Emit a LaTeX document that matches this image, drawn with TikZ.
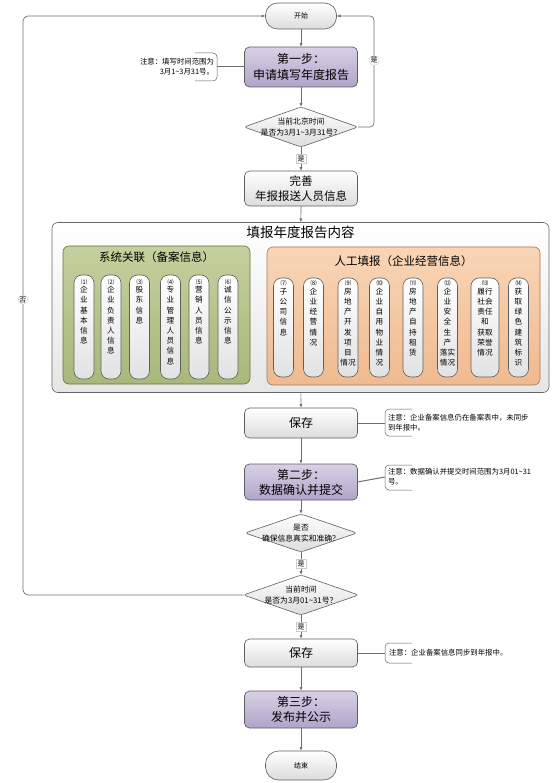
\documentclass[tikz,border=0pt]{standalone}
\usepackage{fontspec}
\setmainfont{Noto Sans CJK SC}
\usetikzlibrary{shapes.geometric,arrows.meta}
\definecolor{lineC}{HTML}{6E6E6E}
\definecolor{bdC}{HTML}{5E5E5E}
\definecolor{purTop}{HTML}{D8D1E6}
\definecolor{purBot}{HTML}{B0A4C8}
\definecolor{grayBot}{HTML}{DCDCDC}
\definecolor{contBot}{HTML}{E6E6E6}
\definecolor{grnTop}{HTML}{C4D09E}
\definecolor{grnBot}{HTML}{A8B87A}
\definecolor{grnBd}{HTML}{66743F}
\definecolor{orTop}{HTML}{F9D5B6}
\definecolor{orBot}{HTML}{EFBA8F}
\definecolor{orBd}{HTML}{A27A58}
\definecolor{pillBot}{HTML}{E2E2E2}
\begin{document}
\begin{tikzpicture}[x=1pt,y=-1pt,
  every node/.style={inner sep=0pt, outer sep=0pt},
  term/.style={draw=bdC, line width=0.6pt, top color=white, bottom color=grayBot, rounded corners=12pt, minimum width=71pt, font=\fontsize{7}{9}\selectfont},
  stepbox/.style={draw=bdC, line width=0.7pt, top color=purTop, bottom color=purBot, rounded corners=5pt, minimum width=113pt, align=center},
  graybox/.style={draw=bdC, line width=0.6pt, top color=white, bottom color=grayBot, rounded corners=5pt, minimum width=113pt, align=center},
  dia/.style={shape=diamond, draw=bdC, line width=0.6pt, top color=white, bottom color=grayBot, rounded corners=3pt},
  diatext/.style={align=center, font=\fontsize{7.8}{11}\selectfont},
  pill/.style={draw=bdC, line width=0.6pt, top color=white, bottom color=pillBot, rounded corners=8pt},
  pilltext/.style={align=center, font=\fontsize{7.6}{10.2}\selectfont},
  notetext/.style={font=\fontsize{7.4}{10}\selectfont},
  bracket/.style={draw=bdC, line width=0.5pt, rounded corners=4pt},
  arr/.style={draw=lineC, line width=0.7pt, -{Latex[length=4pt,width=3pt]}},
  conn/.style={draw=lineC, line width=1pt},
  lab/.style={draw=gray!40, fill=white, line width=0.4pt, inner sep=1.5pt, font=\fontsize{7}{8}\selectfont}
]
\useasboundingbox (0,0) rectangle (554,783);

% main flow nodes
\node[term, minimum height=26pt] (start) at (301,16) {开始};
\node[stepbox, minimum height=40pt, font=\fontsize{12}{16}\selectfont] (s1) at (301,67) {第一步：\\申请填写年度报告};
\node[dia, minimum width=114pt, minimum height=40pt] (d1) at (301,127) {};
\node[diatext] (d1t) at (301,127) {当前北京时间\\是否为3月1\textasciitilde3月31号？};
\node[graybox, minimum height=35pt, font=\fontsize{11.5}{14.5}\selectfont] (ws) at (301,188.5) {完善\\年报报送人员信息};

% container
\node[draw=gray!80!black, line width=0.6pt, top color=white, bottom color=contBot, rounded corners=6pt, minimum width=497pt, minimum height=170pt] (cont) at (300.5,307.5) {};
\node[font=\fontsize{13.5}{15}\selectfont] (ctitle) at (300.5,232) {填报年度报告内容};

\node[draw=grnBd, line width=0.6pt, top color=grnTop, bottom color=grnBot, rounded corners=6pt, minimum width=187pt, minimum height=138pt] (grn) at (156.5,315) {};
\node[font=\fontsize{11.5}{13}\selectfont] (gtitle) at (156.5,257) {系统关联（备案信息）};

\node[draw=orBd, line width=0.6pt, top color=orTop, bottom color=orBot, rounded corners=6pt, minimum width=273pt, minimum height=138pt] (org) at (403.5,316) {};
\node[font=\fontsize{11.5}{13}\selectfont] (otitle) at (403.5,261) {人工填报（企业经营信息）};

\newcommand{\nm}[1]{{\fontsize{6}{7}\selectfont #1}\\[-1.5pt]}
\foreach \n/\x/\w/\t in {
  p1/84/20/{\nm{⑴}企\\业\\基\\本\\信\\息},
  p2/111/20/{\nm{⑵}企\\业\\负\\责\\人\\信\\息},
  p3/139.5/20/{\nm{⑶}股\\东\\信\\息},
  p4/170.5/20/{\nm{⑷}专\\业\\管\\理\\人\\员\\信\\息},
  p5/199/20/{\nm{⑸}营\\销\\人\\员\\信\\息},
  p6/228/20/{\nm{⑹}诚\\信\\公\\示\\信\\息}}{
  \node[pill, minimum width=\w pt, minimum height=104pt] (\n) at (\x,327) {};
  \node[pilltext, anchor=north] at ([yshift=-4pt]\n.north) {\t};
}
\foreach \n/\x/\w/\t in {
  p7/283.5/20/{\nm{⑺}子\\公\\司\\信\\息},
  p8/313.5/20/{\nm{⑻}企\\业\\经\\营\\情\\况},
  p9/348/20/{\nm{⑼}房\\地\\产\\开\\发\\项\\目\\情况},
  p10/379.5/20/{\nm{⑽}企\\业\\自\\用\\物\\业\\情\\况},
  p11/413/20/{\nm{⑾}房\\地\\产\\自\\持\\租\\赁},
  p12/447.5/20/{\nm{⑿}企\\业\\安\\全\\生\\产\\落实\\情况},
  p13/485/28/{\nm{⒀}履行\\社会\\责任\\和\\获取\\荣誉\\情况},
  p14/518.5/20/{\nm{⒁}获\\取\\绿\\色\\建\\筑\\标\\识}}{
  \node[pill, minimum width=\w pt, minimum height=99pt] (\n) at (\x,327.5) {};
  \node[pilltext, anchor=north] at ([yshift=-2.5pt]\n.north) {\t};
}

% lower flow
\node[graybox, minimum height=30pt, font=\fontsize{12}{14}\selectfont] (sv1) at (301,423) {保存};
\node[stepbox, minimum height=36pt, font=\fontsize{12}{15}\selectfont] (s2) at (301,482) {第二步：\\数据确认并提交};
\node[dia, minimum width=112pt, minimum height=38pt] (d2) at (301,533) {};
\node[diatext] (d2t) at (301,533) {是否\\确保信息真实和准确？};
\node[dia, minimum width=115pt, minimum height=40pt] (d3) at (301,595) {};
\node[diatext] (d3t) at (301,595) {当前时间\\是否为3月01\textasciitilde31号？};
\node[graybox, minimum height=28pt, font=\fontsize{12}{14}\selectfont] (sv2) at (301,653) {保存};
\node[stepbox, minimum height=37pt, font=\fontsize{12}{14.5}\selectfont] (s3) at (301,709.5) {第三步：\\发布并公示};
\node[term, minimum height=29pt, rounded corners=13pt] (end) at (301,765.5) {结束};

% notes
\node[notetext, align=right, anchor=east] (n1) at (214,67) {注意：填写时间范围为\\3月1\textasciitilde3月31号。};
\draw[bracket] (195,53) -- (217,53) -- (217,81) -- (195,81);
\coordinate (n1c) at (217,67);

\node[notetext, align=left, anchor=west] (n2) at (388,423) {注意：企业备案信息仍在备案表中，未同步\\到年报中。};
\draw[bracket] (412,409) -- (385,409) -- (385,436) -- (412,436);
\coordinate (n2c) at (385,423);

\node[notetext, align=left, anchor=west] (n3) at (388,477) {注意：数据确认并提交时间范围为3月01\textasciitilde31\\号。};
\draw[bracket] (412,465) -- (385,465) -- (385,490) -- (412,490);
\coordinate (n3c) at (385,477);

\node[notetext, align=left, anchor=west] (n4) at (389,653) {注意：企业备案信息同步到年报中。};
\draw[bracket] (412,643) -- (385,643) -- (385,663) -- (412,663);
\coordinate (n4c) at (385,653);

% connectors
\draw[arr] (start) -- (s1);
\draw[arr] (s1) -- (d1);
\draw[arr] (d1) -- node[lab] {是} (ws);
\draw[arr, rounded corners=4pt] (d1.east) -- (374,127) -- node[lab, pos=0.6] {是} (374,16) -- (start.east);
\draw[arr] (ws) -- (cont);
\draw[arr] (cont) -- (sv1);
\draw[arr] (sv1) -- (s2);
\draw[arr] (s2) -- (d2);
\draw[arr] (d2) -- node[lab] {是} (d3);
\draw[arr, rounded corners=5pt] (d3.west) -- (23,595) -- node[lab, pos=0.51] {否} (23,16) -- (start.west);
\draw[arr] (d3) -- node[lab] {是} (sv2);
\draw[arr] (sv2) -- (s3);
\draw[arr] (s3) -- (end);

\draw[conn] (n1c) -- (s1.west);
\draw[conn] (sv1.east) -- (n2c);
\draw[conn] (s2.east) -- (n3c);
\draw[conn] (sv2.east) -- (n4c);
\end{tikzpicture}
\end{document}
